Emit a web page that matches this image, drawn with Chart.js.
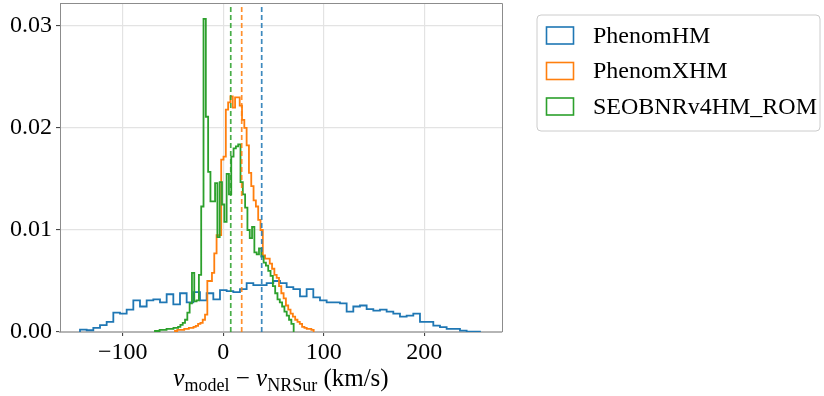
<!DOCTYPE html>
<html>
<head>
<meta charset="utf-8">
<script src="https://cdn.jsdelivr.net/npm/chart.js@4/dist/chart.umd.min.js"></script>
<style>
  html, body { margin: 0; padding: 0; background: #ffffff; }
  canvas { display: block; }
</style>
</head>
<body>
<canvas id="c" width="824" height="396"></canvas>
<script>
// ---- data ----
const seriesNames = ['PhenomHM', 'PhenomXHM', 'SEOBNRv4HM_ROM'];
const seriesColors = ['#1f77b4', '#ff7f0e', '#2ca02c'];

// histogram bin layout (km/s): first edge and bin width, 60 bins each
const phenomHMBinStart = -142.6, phenomHMBinWidth = 6.633;
const phenomXHMBinStart = -48.1, phenomXHMBinWidth = 2.3;
const seobBinStart = -68.0, seobBinWidth = 2.3;

const phenomHMDensity = [
  0.00023, 0.00017, 0.0004, 0.00067, 0.0010, 0.0019, 0.0018, 0.0022, 0.0031, 0.0025,
  0.0031, 0.0032, 0.0029, 0.0037, 0.0027, 0.0038, 0.0029, 0.0039, 0.0031, 0.0038,
  0.0032, 0.0041, 0.0040, 0.0039, 0.0042, 0.0048, 0.0046, 0.0046, 0.0048, 0.0050,
  0.0048, 0.0044, 0.0042, 0.0035, 0.0042, 0.0034, 0.0031, 0.0029, 0.0029, 0.0028,
  0.0020, 0.0025, 0.0026, 0.00225, 0.0021, 0.0022, 0.0020, 0.0018, 0.0015, 0.0016,
  0.0018, 0.0010, 0.0010, 0.00062, 0.00048, 0.0003, 0.0003, 0.00014, 0.00004, 0.00003
];
const phenomXHMDensity = [
  0.0001, 0.0002, 0.0002, 0.0002, 0.0003, 0.0003, 0.0004, 0.0004, 0.0005, 0.0006,
  0.0008, 0.0009, 0.0012, 0.0017, 0.0050, 0.0050, 0.0058, 0.0077, 0.0095, 0.0095,
  0.0169, 0.0172, 0.0218, 0.0225, 0.0231, 0.0220, 0.0230, 0.0230, 0.0222, 0.0208,
  0.0200, 0.0183, 0.0156, 0.0143, 0.0129, 0.0123, 0.0110, 0.0100, 0.0075, 0.0072,
  0.0072, 0.0067, 0.0062, 0.0056, 0.0053, 0.0045, 0.0038, 0.0033, 0.0026, 0.0022,
  0.0018, 0.0015, 0.0012, 0.0010, 0.0008, 0.0005, 0.0004, 0.0003, 0.0003, 0.0002
];
const seobDensity = [
  0.0001, 0.0001, 0.0002, 0.0002, 0.0002, 0.0003, 0.0003, 0.0003, 0.0004, 0.0004,
  0.0005, 0.0007, 0.0009, 0.0012, 0.0019, 0.0028, 0.0058, 0.0030, 0.0031, 0.0056,
  0.0123, 0.0307, 0.0211, 0.0157, 0.0128, 0.0128, 0.0146, 0.0093, 0.0147, 0.0125,
  0.0108, 0.0155, 0.0135, 0.0172, 0.0180, 0.0182, 0.0184, 0.0147, 0.0135, 0.0122,
  0.0100, 0.0092, 0.0103, 0.0078, 0.0076, 0.0082, 0.0074, 0.0068, 0.0065, 0.0060,
  0.0055, 0.0045, 0.0038, 0.0032, 0.0029, 0.0025, 0.0020, 0.0016, 0.0012, 0.0008
];

// mean values (dashed vertical lines)
const seriesMeans = [38.2, 18.3, 7.4];

// axes
const xMin = -162.5, xMax = 277.3;
const yMin = 0, yMax = 0.03225;
const xTickValues = [-100, 0, 100, 200];
const xTickLabels = ['\u2212100', '0', '100', '200'];
const yTickValues = [0, 0.01, 0.02, 0.03];
const yTickLabels = ['0.00', '0.01', '0.02', '0.03'];

// ---- build step outlines ----
function stepPoints(start, width, dens) {
  const pts = [{ x: start, y: 0 }];
  for (let i = 0; i < dens.length; i++) pts.push({ x: start + i * width, y: dens[i] });
  pts.push({ x: start + dens.length * width, y: 0 });
  return pts;
}
const histSpecs = [
  [phenomHMBinStart, phenomHMBinWidth, phenomHMDensity],
  [phenomXHMBinStart, phenomXHMBinWidth, phenomXHMDensity],
  [seobBinStart, seobBinWidth, seobDensity]
];

const datasets = [];
histSpecs.forEach((s, i) => {
  datasets.push({
    label: seriesNames[i],
    data: stepPoints(s[0], s[1], s[2]),
    borderColor: seriesColors[i],
    borderWidth: 1.8,
    stepped: 'before',
    pointRadius: 0,
    fill: false,
    order: 3 - i,
    isHist: true
  });
});
seriesMeans.forEach((m, i) => {
  datasets.push({
    label: seriesNames[i] + ' mean',
    data: [{ x: m, y: yMin }, { x: m, y: yMax }],
    borderColor: seriesColors[i] + 'dd',
    borderWidth: 1.7,
    borderDash: [5, 3],
    pointRadius: 0,
    fill: false,
    order: 0,
    isHist: false
  });
});

const SERIF = '"Liberation Serif", "DejaVu Serif", serif';

const decor = {
  id: 'decor',
  beforeDraw(chart) {
    const ctx = chart.ctx;
    ctx.save();
    ctx.fillStyle = '#ffffff';
    ctx.fillRect(0, 0, chart.width, chart.height);
    ctx.restore();
  },
  afterDraw(chart) {
    const ctx = chart.ctx;
    const a = chart.chartArea;
    ctx.save();
    // top & right spines
    ctx.strokeStyle = '#8c8c8c';
    ctx.lineWidth = 1;
    ctx.beginPath();
    ctx.moveTo(a.left, a.top + 0.5);
    ctx.lineTo(a.right + 0.5, a.top + 0.5);
    ctx.lineTo(a.right + 0.5, a.bottom);
    ctx.stroke();

    // x-axis title with subscripts
    const big = '25px ' + SERIF, bigIt = 'italic 25px ' + SERIF, small = '18px ' + SERIF;
    const parts = [
      { t: 'v', f: bigIt, dy: 0 },
      { t: 'model', f: small, dy: 5 },
      { t: ' \u2212 ', f: big, dy: 0 },
      { t: 'v', f: bigIt, dy: 0 },
      { t: 'NRSur', f: small, dy: 5 },
      { t: ' (km/s)', f: big, dy: 0 }
    ];
    let total = 0;
    parts.forEach(p => { ctx.font = p.f; p.w = ctx.measureText(p.t).width; total += p.w; });
    let x = (a.left + a.right) / 2 - total / 2;
    const base = 386;
    ctx.fillStyle = '#000000';
    ctx.textBaseline = 'alphabetic';
    ctx.textAlign = 'left';
    parts.forEach(p => { ctx.font = p.f; ctx.fillText(p.t, x, base + p.dy); x += p.w; });

    // legend
    const lx = 537, ly = 15, lw = 283, lh = 116, r = 4;
    ctx.beginPath();
    ctx.moveTo(lx + r, ly);
    ctx.lineTo(lx + lw - r, ly); ctx.arcTo(lx + lw, ly, lx + lw, ly + r, r);
    ctx.lineTo(lx + lw, ly + lh - r); ctx.arcTo(lx + lw, ly + lh, lx + lw - r, ly + lh, r);
    ctx.lineTo(lx + r, ly + lh); ctx.arcTo(lx, ly + lh, lx, ly + lh - r, r);
    ctx.lineTo(lx, ly + r); ctx.arcTo(lx, ly, lx + r, ly, r);
    ctx.closePath();
    ctx.fillStyle = '#ffffff';
    ctx.fill();
    ctx.strokeStyle = '#cccccc';
    ctx.lineWidth = 1;
    ctx.stroke();
    const hist = chart.data.datasets.filter(d => d.isHist);
    ctx.font = '24px ' + SERIF;
    ctx.textBaseline = 'middle';
    hist.forEach((d, i) => {
      const cy = 35.5 + i * 35.5;
      ctx.strokeStyle = d.borderColor;
      ctx.lineWidth = 1.6;
      ctx.strokeRect(546.5, cy - 8.5, 27, 17);
      ctx.fillStyle = '#000000';
      ctx.fillText(d.label, 593, cy + 1);
    });
    ctx.restore();
  }
};

new Chart(document.getElementById('c'), {
  type: 'line',
  data: { datasets },
  options: {
    responsive: false,
    animation: false,
    devicePixelRatio: 1,
    layout: { padding: { top: 3, right: 322, left: 0, bottom: 0 } },
    plugins: { legend: { display: false }, tooltip: { enabled: false } },
    elements: { line: { tension: 0 } },
    scales: {
      x: {
        type: 'linear',
        min: xMin, max: xMax,
        afterBuildTicks: s => { s.ticks = xTickValues.map(v => ({ value: v })); },
        afterFit: s => { s.height = 64; s.paddingLeft = 0; s.paddingRight = 0; },
        ticks: {
          color: '#000000',
          font: { family: SERIF, size: 24 },
          padding: 2,
          maxRotation: 0,
          callback: v => xTickLabels[xTickValues.indexOf(v)]
        },
        grid: { color: '#e3e3e3', lineWidth: 1.2, tickLength: 4, tickColor: '#333333', tickWidth: 1 },
        border: { display: true, color: '#b5b5b5', width: 2 }
      },
      y: {
        type: 'linear',
        min: yMin, max: yMax,
        afterBuildTicks: s => { s.ticks = yTickValues.map(v => ({ value: v })); },
        afterFit: s => { s.width = 60; s.paddingTop = 0; s.paddingBottom = 0; },
        ticks: {
          color: '#000000',
          font: { family: SERIF, size: 24 },
          padding: 4,
          callback: v => yTickLabels[yTickValues.findIndex(t => Math.abs(t - v) < 1e-9)]
        },
        grid: { color: '#e3e3e3', lineWidth: 1.2, tickLength: 4, tickColor: '#333333', tickWidth: 1 },
        border: { display: true, color: '#8c8c8c', width: 1 }
      }
    }
  },
  plugins: [decor]
});
</script>
</body>
</html>
